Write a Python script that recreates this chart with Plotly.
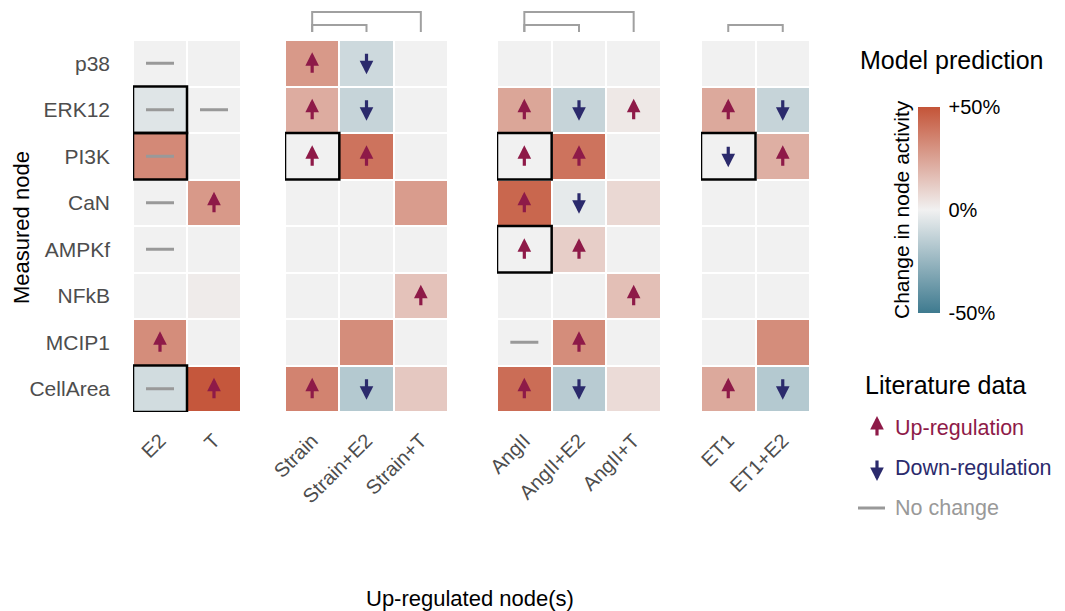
import plotly.graph_objects as go

# ---------------- data ----------------
rows = ["p38", "ERK12", "PI3K", "CaN", "AMPKf", "NFkB", "MCIP1", "CellArea"]

g1_cols = ["E2", "T"]
g1_pred = [[0, 0], [-5, 0], [33, 0], [0, 28], [0, 0], [0, 2], [32, 0], [-9, 49]]
g1_lit = [["n", ""], ["n", "n"], ["n", ""], ["n", "u"], ["n", ""], ["", ""], ["u", ""], ["n", "u"]]
g1_mismatch = [("ERK12", "E2"), ("PI3K", "E2"), ("CellArea", "E2")]
g1_pairs = []

g2_cols = ["Strain", "Strain+E2", "Strain+T"]
g2_pred = [[28, -10, 0], [22, -12, 0], [0, 40, 0], [0, 0, 27], [0, 0, 0], [0, 0, 15], [0, 32, 0], [35, -17, 13]]
g2_lit = [["u", "d", ""], ["u", "d", ""], ["u", "u", ""], ["", "", ""], ["", "", ""], ["", "", "u"], ["", "", ""], ["u", "d", ""]]
g2_mismatch = [("PI3K", "Strain")]
g2_pairs = [("Strain", "Strain+E2"), ("Strain", "Strain+T")]

g3_cols = ["AngII", "AngII+E2", "AngII+T"]
g3_pred = [[0, 0, 0], [24, -12, 3], [0, 40, 0], [44, -3, 8], [0, 11, 0], [0, 0, 16], [0, 32, 0], [42, -16, 7]]
g3_lit = [["", "", ""], ["u", "d", "u"], ["u", "u", ""], ["u", "d", ""], ["u", "u", ""], ["", "", "u"], ["n", "u", ""], ["u", "d", ""]]
g3_mismatch = [("PI3K", "AngII"), ("AMPKf", "AngII")]
g3_pairs = [("AngII", "AngII+E2"), ("AngII", "AngII+T")]

g4_cols = ["ET1", "ET1+E2"]
g4_pred = [[0, 0], [23, -12], [0, 21], [0, 0], [0, 0], [0, 0], [0, 32], [23, -17]]
g4_lit = [["", ""], ["u", "d"], ["d", "u"], ["", ""], ["", ""], ["", ""], ["", ""], ["u", "d"]]
g4_mismatch = [("PI3K", "ET1")]
g4_pairs = [("ET1", "ET1+E2")]

cbar_ticks = [-50, 0, 50]
cbar_labels = ["-50%", "0%", "+50%"]

# ---------------- style ----------------
W, H = 1065, 611
OFF = 8  # page body margin
FONT = "Liberation Sans, Arial, sans-serif"
UP = "#8e1a48"
DOWN = "#2b2a6c"
NC = "#999999"
TXT = "#4d4d4d"
ARROW = dict(arrowhead=2, arrowsize=0.85, arrowwidth=3.2, standoff=0, startstandoff=0)


def px(x):
    return (x - OFF) / W


def py(y):
    return 1 - (y - OFF) / H


groups = [
    (g1_cols, g1_pred, g1_lit, g1_mismatch, g1_pairs, (133, 241)),
    (g2_cols, g2_pred, g2_lit, g2_mismatch, g2_pairs, (285, 448)),
    (g3_cols, g3_pred, g3_lit, g3_mismatch, g3_pairs, (497, 661)),
    (g4_cols, g4_pred, g4_lit, g4_mismatch, g4_pairs, (701, 810)),
]

fig = go.Figure()
annotations = []
shapes = []
layout_axes = {}

for gi, (cols, pred, lit, mism, pairs, (xl, xr)) in enumerate(groups):
    xa = "x" if gi == 0 else f"x{gi + 1}"
    axname = "xaxis" if gi == 0 else f"xaxis{gi + 1}"
    fig.add_trace(go.Heatmap(
        z=pred, x=cols, y=rows, coloraxis="coloraxis",
        xgap=2, ygap=2, hoverinfo="skip", xaxis=xa, yaxis="y"))
    nx, ny = [], []
    for ri, r in enumerate(rows):
        for ci, c in enumerate(cols):
            code = lit[ri][ci]
            if code == "n":
                nx.append(c)
                ny.append(r)
            elif code in ("u", "d"):
                up = code == "u"
                annotations.append(dict(
                    x=c, y=r, xref=xa, yref="y", text="", showarrow=True,
                    ax=0, ay=22 if up else -22, axref="pixel", ayref="pixel",
                    yshift=11 if up else -11,
                    arrowcolor=UP if up else DOWN, **ARROW))
    if nx:
        fig.add_trace(go.Scatter(
            x=nx, y=ny, mode="markers", xaxis=xa, yaxis="y", hoverinfo="skip",
            showlegend=False,
            marker=dict(symbol="line-ew", size=20, line=dict(width=3, color=NC))))
    for (r, c) in mism:
        ci = cols.index(c)
        ri = rows.index(r)
        shapes.append(dict(type="rect", xref=xa, yref="y",
                           x0=ci - 0.5, x1=ci + 0.5, y0=ri - 0.5, y1=ri + 0.5,
                           line=dict(color="black", width=2.5)))
    for pi, (a, b) in enumerate(pairs):
        ia, ib = cols.index(a), cols.index(b)
        ytop = py(25) if pi == 0 else py(12)
        ybot = py(32)
        shapes.append(dict(type="path", xref=xa, yref="paper",
                           path=f"M {ia},{ybot} L {ia},{ytop} L {ib},{ytop} L {ib},{ybot}",
                           line=dict(color="#a0a0a0", width=2)))
    layout_axes[axname] = dict(
        domain=[px(xl), px(xr)], anchor="y", range=[-0.5, len(cols) - 0.5],
        tickangle=-45, showgrid=False, zeroline=False, showline=False, ticks="",
        ticklabelstandoff=12,
        tickfont=dict(size=20, color=TXT, family=FONT), automargin=False,
        fixedrange=True)

fig.update_layout(**layout_axes)
fig.update_layout(
    yaxis=dict(domain=[py(412), py(40)], anchor="x", range=[len(rows) - 0.5, -0.5],
               autorange=False,
               categoryorder="array", categoryarray=rows,
               showgrid=False, zeroline=False, showline=False, ticks="",
               ticklabelstandoff=22,
               tickfont=dict(size=21, color=TXT, family=FONT), automargin=False),
    coloraxis=dict(
        cmin=-50, cmax=50,
        colorscale=[[0, "rgb(62,122,143)"], [0.5, "rgb(241,241,241)"], [1, "rgb(196,84,56)"]],
        colorbar=dict(x=px(918), xanchor="left", xpad=0, ypad=0,
                      y=py(210), yanchor="middle", len=206 / H, lenmode="fraction",
                      thickness=22, outlinewidth=0,
                      ticks="outside", ticklen=5, tickcolor="rgba(0,0,0,0)",
                      tickvals=cbar_ticks, ticktext=cbar_labels,
                      tickfont=dict(size=20, color="black", family=FONT))),
    width=W, height=H,
    margin=dict(l=0, r=0, t=0, b=0, autoexpand=False),
    paper_bgcolor="white", plot_bgcolor="white",
    font=dict(family=FONT),
    showlegend=False,
)


def label(x, y, text, size, color="black", xanchor="center", angle=0):
    return dict(x=px(x), y=py(y), xref="paper", yref="paper", text=text,
                textangle=angle, showarrow=False, xanchor=xanchor, yanchor="middle",
                font=dict(size=size, color=color, family=FONT))


annotations += [
    label(21, 228, "Measured node", 22, angle=-90),
    label(470, 598, "Up-regulated node(s)", 22),
    label(858, 60, "Model prediction", 25, xanchor="left"),
    label(901, 210, "Change in node activity", 21, angle=-90),
    label(863, 385, "Literature data", 25, xanchor="left"),
    label(893, 428, "Up-regulation", 21.5, UP, xanchor="left"),
    label(893, 468, "Down-regulation", 21.5, DOWN, xanchor="left"),
    label(893, 508, "No change", 21.5, NC, xanchor="left"),
    dict(x=px(877), y=py(416), xref="paper", yref="paper", text="", showarrow=True,
         ax=0, ay=21, arrowcolor=UP, **ARROW),
    dict(x=px(877), y=py(481), xref="paper", yref="paper", text="", showarrow=True,
         ax=0, ay=-22, arrowcolor=DOWN, **ARROW),
]
shapes.append(dict(type="line", xref="paper", yref="paper",
                   x0=px(858), x1=px(885), y0=py(508), y1=py(508),
                   line=dict(color=NC, width=3)))

fig.update_layout(annotations=annotations, shapes=shapes)
fig.write_html("out.html")
